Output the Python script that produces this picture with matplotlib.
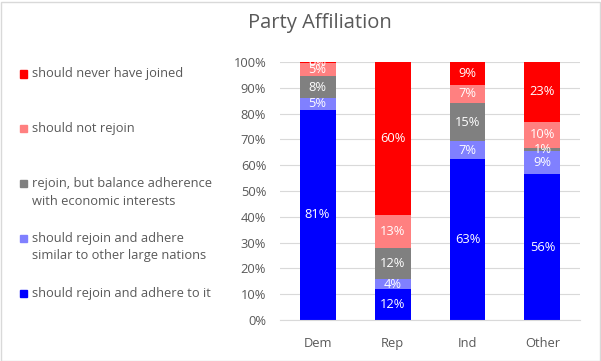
import numpy as np
import matplotlib.pyplot as plt
from matplotlib.patches import Rectangle

# categories and answer shares (percent)
parties = ["Dem", "Rep", "Ind", "Other"]
adhere = [81.4, 12, 63, 56]
adhere_similar = [4.7, 4, 7, 9]
balance = [8.3, 12, 15, 1]
not_rejoin = [5.2, 13, 7, 10]
never_joined = [0.4, 60, 9, 23]

series = [
    ("should rejoin and adhere to it", adhere, "#0000FF"),
    ("should rejoin and adhere\nsimilar to other large nations", adhere_similar, "#8080FF"),
    ("rejoin, but balance adherence\nwith economic interests", balance, "#808080"),
    ("should not rejoin", not_rejoin, "#FF8080"),
    ("should never have joined", never_joined, "#FF0000"),
]

plt.rcParams['font.family'] = ['Open Sans', 'DejaVu Sans']

fig = plt.figure(figsize=(6.01, 3.61), dpi=100)
ax = fig.add_axes([0.466, 0.1136, 0.499, 0.7147])

totals = np.sum([s[1] for s in series], axis=0)
x = np.arange(len(parties))
bottom = np.zeros(len(parties))
for name, vals, col in series:
    vals = np.array(vals, dtype=float)
    frac = vals / totals
    bars = ax.bar(x, frac, 0.48, bottom=bottom, color=col, zorder=2)
    ax.bar_label(bars, labels=["%d%%" % round(v) for v in vals], label_type="center",
                 color="white", fontsize=9.3)
    bottom += frac

ax.set_ylim(0, 1)
ax.set_xlim(-0.5, len(parties) - 0.5)
ax.set_yticks(np.arange(0, 1.01, 0.1))
ax.set_yticklabels(["%d%%" % (v * 100) for v in np.arange(0, 1.01, 0.1)], fontsize=9.3, color="#595959")
ax.set_xticks(x)
ax.set_xticklabels(parties, fontsize=9.3, color="#595959")
ax.tick_params(axis="y", length=0, pad=10)
ax.tick_params(axis="x", length=0, pad=12)
ax.grid(axis="y", color="#D9D9D9", lw=0.8, zorder=0)
for sp in ["top", "right", "left"]:
    ax.spines[sp].set_visible(False)
ax.spines["bottom"].set_color("#D9D9D9")

fig.text(0.532, 0.935, "Party Affiliation", ha="center", va="center", fontsize=14.5, color="#595959")

# legend on the left, drawn by hand
leg_y = [293, 238, 183, 129, 74]
for (name, vals, col), yy in zip(series, leg_y):
    fy = 1 - yy / 361
    fig.patches.append(Rectangle((20 / 601, fy - 3.5 / 361), 7 / 601, 7 / 361,
                                 transform=fig.transFigure, color=col))
    if "\n" in name:
        fig.text(32 / 601, fy + 6 / 361, name, ha="left", va="top",
                 fontsize=9.3, color="#595959", linespacing=1.45)
    else:
        fig.text(32 / 601, fy, name, ha="left", va="center", fontsize=9.3, color="#595959")

fig.patches.append(Rectangle((0.5 / 601, 0.5 / 361), 599 / 601, 359 / 361, transform=fig.transFigure,
                             fill=False, ec="#D9D9D9", lw=1))

fig.savefig("out.png", dpi=100)
